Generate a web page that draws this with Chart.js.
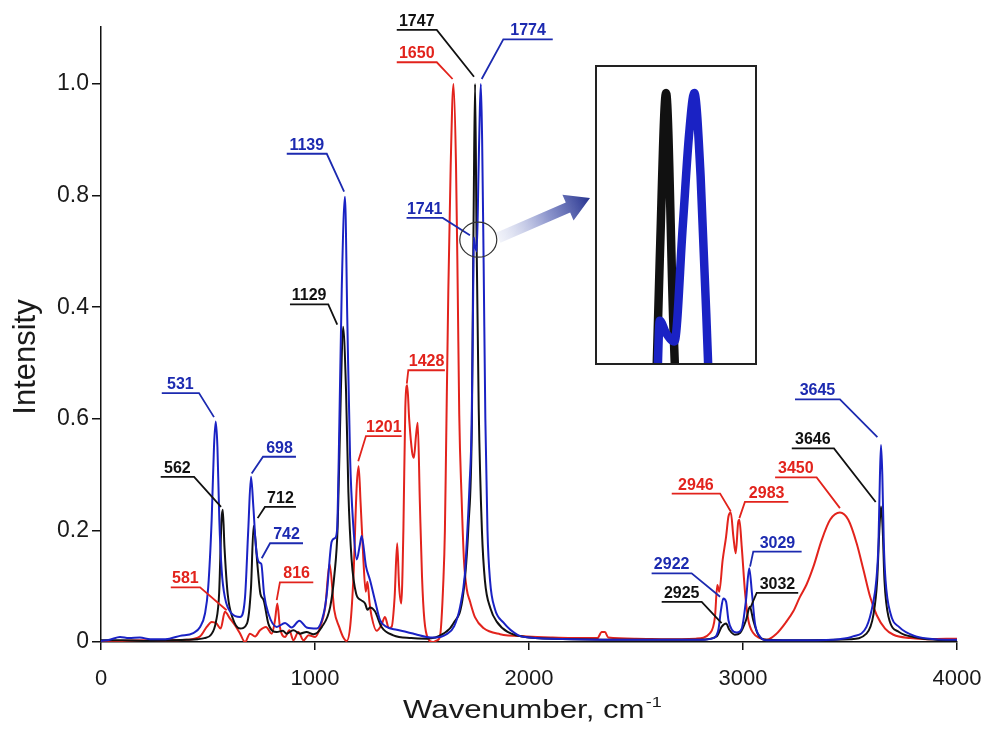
<!DOCTYPE html>
<html><head><meta charset="utf-8">
<script src="https://cdn.jsdelivr.net/npm/chart.js@4.4.1/dist/chart.umd.min.js"></script>
<style>
html,body{margin:0;padding:0;background:#fff;}
#wrap{position:relative;width:986px;height:729px;overflow:hidden;}
#main{position:absolute;left:0;top:0;}
#insetBox{position:absolute;left:595px;top:65px;width:162px;height:300px;border:2px solid #222;box-sizing:border-box;background:#fff;}
#inset{display:block;}
</style></head><body>
<div id="wrap"><canvas id="main" width="986" height="729"></canvas>
<div id="insetBox"><canvas id="inset" width="158" height="296"></canvas></div></div>
<script>
// ---- data ----
const blackX = [0,100,200,300,400,452,483,514,537,552,563,569,577,592,616,650,682,701,713,720,732,745,760,782,821,850,866,899,930,960,993,1032,1071,1090,1106,1121,1131,1145,1156,1171,1192,1215,1234,1245,1257,1280,1311,1366,1450,1522,1600,1646,1693,1717,1733,1738,1742,1748,1755,1765,1780,1794,1820,1850,1900,2000,2200,2500,2800,2877,2900,2921,2936,2962,2986,3014,3032,3048,3071,3110,3300,3500,3577,3610,3627,3637,3645,3653,3661,3680,3729,3808,3900,4000];
const blackY = [0.003,0.003,0.002,0.003,0.004,0.005,0.007,0.013,0.036,0.087,0.218,0.237,0.17,0.086,0.042,0.024,0.033,0.098,0.208,0.19,0.134,0.086,0.075,0.033,0.018,0.02,0.015,0.021,0.015,0.018,0.014,0.027,0.063,0.118,0.208,0.451,0.565,0.451,0.269,0.148,0.087,0.075,0.069,0.058,0.062,0.055,0.027,0.012,0.007,0.006,0.015,0.033,0.087,0.208,0.39,0.62,0.8,1.0,0.72,0.42,0.2,0.11,0.06,0.036,0.018,0.008,0.005,0.004,0.004,0.01,0.027,0.033,0.022,0.013,0.016,0.039,0.063,0.039,0.013,0.004,0.003,0.005,0.015,0.05,0.111,0.2,0.243,0.2,0.111,0.045,0.018,0.008,0.004,0.003];

const blueX = [0,40,89,130,182,230,276,320,369,431,463,486,501,517,528,536,544,553,564,579,611,650,673,688,701,712,724,738,749,762,782,821,860,891,927,961,1008,1040,1055,1078,1093,1103,1111,1125,1140,1151,1164,1179,1195,1210,1218,1238,1257,1280,1304,1335,1382,1428,1470,1522,1560,1615,1650,1678,1700,1709,1722,1732,1739,1742,1748,1756,1764,1770,1775,1781,1788,1796,1806,1818,1840,1880,1950,2000,2200,2500,2800,2862,2885,2897,2908,2921,2932,2948,2971,2994,3014,3029,3042,3056,3079,3110,3300,3450,3514,3577,3608,3623,3633,3640,3645,3651,3658,3666,3690,3729,3808,3900,4000];
const blueY = [0.002,0.004,0.009,0.007,0.008,0.005,0.005,0.006,0.011,0.016,0.027,0.051,0.098,0.218,0.35,0.395,0.35,0.218,0.128,0.08,0.051,0.045,0.08,0.2,0.296,0.242,0.17,0.143,0.14,0.086,0.051,0.027,0.034,0.026,0.038,0.026,0.024,0.05,0.086,0.18,0.186,0.2,0.33,0.633,0.798,0.577,0.33,0.208,0.148,0.175,0.19,0.136,0.111,0.075,0.039,0.027,0.022,0.018,0.014,0.009,0.008,0.014,0.028,0.063,0.12,0.178,0.28,0.39,0.62,0.725,0.71,0.70,0.84,0.95,1.0,0.9,0.68,0.4,0.2,0.11,0.06,0.035,0.012,0.008,0.005,0.004,0.004,0.007,0.022,0.057,0.078,0.072,0.039,0.022,0.017,0.024,0.075,0.132,0.087,0.033,0.01,0.003,0.003,0.005,0.01,0.027,0.07,0.111,0.177,0.3,0.353,0.3,0.177,0.111,0.05,0.027,0.01,0.005,0.004];

const redX = [0,100,200,300,400,463,494,517,540,559,579,603,626,650,673,696,720,743,771,798,813,824,836,860,880,899,922,946,970,1001,1025,1048,1068,1090,1113,1130,1148,1165,1180,1195,1204,1213,1226,1237,1245,1255,1265,1288,1310,1327,1345,1358,1372,1384,1393,1403,1413,1422,1431,1440,1454,1462,1472,1480,1490,1500,1511,1530,1550,1570,1584,1600,1607,1612,1623,1634,1647,1659,1667,1674,1685,1696,1709,1724,1748,1787,1865,1990,2100,2200,2320,2340,2355,2370,2500,2650,2780,2846,2869,2880,2889,2905,2921,2932,2943,2955,2966,2977,2983,2994,3010,3025,3048,3079,3110,3157,3200,3235,3265,3297,3329,3368,3407,3453,3492,3531,3563,3594,3625,3664,3703,3781,3859,3950,4000];
const redY = [0.002,0.002,0.003,0.003,0.004,0.01,0.027,0.036,0.033,0.024,0.054,0.042,0.03,0.015,0.0,0.015,0.01,0.021,0.027,0.015,0.039,0.069,0.027,0.009,0.021,0.003,0.018,0.003,0.012,0.009,0.027,0.063,0.14,0.057,0.027,0.01,0.002,0.03,0.12,0.28,0.315,0.25,0.148,0.09,0.108,0.07,0.045,0.02,0.03,0.045,0.025,0.027,0.08,0.177,0.1,0.069,0.2,0.42,0.46,0.4,0.34,0.33,0.37,0.393,0.25,0.118,0.04,0.005,0.0,0.003,0.01,0.111,0.2,0.333,0.63,0.853,1.0,0.853,0.63,0.408,0.259,0.147,0.095,0.073,0.044,0.025,0.014,0.01,0.008,0.007,0.007,0.018,0.018,0.008,0.006,0.005,0.006,0.016,0.045,0.102,0.09,0.147,0.189,0.225,0.232,0.189,0.159,0.213,0.219,0.171,0.087,0.039,0.016,0.007,0.004,0.015,0.035,0.055,0.08,0.103,0.135,0.183,0.219,0.232,0.219,0.177,0.129,0.081,0.048,0.024,0.013,0.007,0.005,0.006,0.006];

const xTickValues = [0,1000,2000,3000,4000];
const xTickLabels = ['0','1000','2000','3000','4000'];
const yTickValues = [0,0.2,0.4,0.6,0.8,1.0];
const yTickLabels = ['0','0.2','0.6','0.4','0.8','1.0'];

const peakLabels = ['531','562','698','712','742','581','816','1139','1129','1201','1428','1741','1747','1650','1774','2946','2983','2922','2925','3029','3032','3645','3646','3450'];
const peakSeries = ['blue','black','blue','black','blue','red','red','blue','black','red','red','blue','black','red','blue','red','red','blue','black','blue','black','blue','black','red'];

// ---- styling / layout (not data) ----
const COLORS = {black:'#111111', blue:'#1a22c4', red:'#e2231c'};
const TEXTC = {black:'#111111', blue:'#1c2ab0', red:'#e2231c'};
// underline start, end, height; leader target (data units); side of underline the leader leaves from
const labelLayout = [
 [284,458,0.446,528,0.403,'R'],
 [279,435,0.296,561,0.242,'R'],
 [757,911,0.332,704,0.302,'L'],
 [766,911,0.242,732,0.222,'L'],
 [790,944,0.177,751,0.150,'L'],
 [326,463,0.098,587,0.057,'R'],
 [836,992,0.107,821,0.075,'L'],
 [868,1055,0.875,1136,0.807,'R'],
 [883,1062,0.605,1104,0.569,'R'],
 [1238,1405,0.369,1202,0.324,'L'],
 [1436,1607,0.487,1429,0.463,'L'],
 [1428,1597,0.760,1724,0.729,'R'],
 [1382,1569,1.097,1743,1.013,'R'],
 [1382,1569,1.039,1643,1.009,'R'],
 [1880,2111,1.080,1779,1.009,'L'],
 [2667,2893,0.266,2943,0.234,'R'],
 [3009,3212,0.251,2983,0.222,'L'],
 [2573,2760,0.123,2893,0.081,'R'],
 [2620,2807,0.072,2900,0.034,'R'],
 [3048,3274,0.162,3033,0.135,'L'],
 [3064,3258,0.088,3033,0.060,'L'],
 [3243,3453,0.435,3628,0.367,'R'],
 [3228,3425,0.347,3620,0.251,'R'],
 [3150,3344,0.295,3453,0.240,'R']
];
const FONT = '"Liberation Sans", Arial, Helvetica, sans-serif';

function pts(xs, ys){ return xs.map((x,i)=>({x:x, y:ys[i]})); }
function ds(name, xs, ys, w){
  return {label:name, data:pts(xs,ys), borderColor:COLORS[name], borderWidth:w, pointRadius:0,
          fill:false, cubicInterpolationMode:'monotone'};
}

const annotPlugin = {
  id:'annot',
  afterDraw(chart){
    const ctx = chart.ctx, xs = chart.scales.x, ys = chart.scales.y;
    ctx.save();
    ctx.lineWidth = 1.8; ctx.lineJoin = 'miter';
    ctx.font = 'bold 16px ' + FONT; ctx.textAlign = 'center'; ctx.textBaseline = 'alphabetic';
    peakLabels.forEach((t,i)=>{
      const L = labelLayout[i], c = peakSeries[i];
      const x0 = xs.getPixelForValue(L[0]), x1 = xs.getPixelForValue(L[1]), y = ys.getPixelForValue(L[2]);
      const tx = xs.getPixelForValue(L[3]), ty = ys.getPixelForValue(L[4]);
      ctx.strokeStyle = TEXTC[c]; ctx.fillStyle = TEXTC[c];
      ctx.beginPath();
      if (L[5]==='R'){ ctx.moveTo(x0,y); ctx.lineTo(x1,y); ctx.lineTo(tx,ty); }
      else { ctx.moveTo(x1,y); ctx.lineTo(x0,y); ctx.lineTo(tx,ty); }
      ctx.stroke();
      ctx.fillText(t, (x0+x1)/2, y-4);
    });
    // circle
    const cx = xs.getPixelForValue(1763), cy = ys.getPixelForValue(0.721);
    ctx.strokeStyle = '#333'; ctx.lineWidth = 1.2;
    ctx.beginPath(); ctx.ellipse(cx, cy, 18.5, 17.5, 0, 0, Math.PI*2); ctx.stroke();
    // arrow
    const sx = cx+20, sy = cy-2, ex = 590, ey = 198;
    const ang = Math.atan2(ey-sy, ex-sx), len = Math.hypot(ex-sx, ey-sy);
    const g = ctx.createLinearGradient(sx, sy, ex, ey);
    g.addColorStop(0,'rgba(215,220,240,0.35)'); g.addColorStop(0.55,'rgba(120,130,195,0.85)'); g.addColorStop(1,'#26338f');
    ctx.translate(sx, sy); ctx.rotate(ang);
    ctx.fillStyle = g;
    const hw = 5.5, hl = 24, hh = 14;
    ctx.beginPath();
    ctx.moveTo(0,-hw); ctx.lineTo(len-hl,-hw); ctx.lineTo(len-hl,-hh); ctx.lineTo(len,0);
    ctx.lineTo(len-hl,hh); ctx.lineTo(len-hl,hw); ctx.lineTo(0,hw); ctx.closePath();
    ctx.setTransform(1,0,0,1,0,0);
    ctx.fill();
    ctx.restore();

    // axis titles
    ctx.save();
    ctx.fillStyle = '#1a1a1a';
    ctx.font = '31px ' + FONT;
    ctx.translate(35, 357); ctx.rotate(-Math.PI/2);
    ctx.textAlign = 'center'; ctx.textBaseline = 'alphabetic';
    ctx.fillText('Intensity', 0, 0);
    ctx.restore();

    ctx.save();
    ctx.fillStyle = '#1a1a1a';
    ctx.font = '26px ' + FONT;
    ctx.textAlign = 'left'; ctx.textBaseline = 'alphabetic';
    ctx.translate(403, 718); ctx.scale(1.2, 1);
    const main = 'Wavenumber, cm';
    ctx.fillText(main, 0, 0);
    const w = ctx.measureText(main).width;
    ctx.font = '15px ' + FONT;
    ctx.fillText('-1', w + 1, -11);
    ctx.restore();
  }
};

new Chart(document.getElementById('main'), {
  type:'line',
  data:{ datasets:[ ds('blue',blueX,blueY,2), ds('black',blackX,blackY,2), ds('red',redX,redY,2) ] },
  options:{
    responsive:false, animation:false, devicePixelRatio:1,
    layout:{ padding:{ top:27, right:29, left:0, bottom:0 } },
    plugins:{ legend:{display:false}, tooltip:{enabled:false} },
    scales:{
      x:{ type:'linear', min:0, max:4000,
          afterBuildTicks(s){ s.ticks = xTickValues.map(v=>({value:v})); },
          afterFit(s){ s.height = 87; s.paddingLeft = 0; s.paddingRight = 0; },
          ticks:{ font:{family:FONT, size:22}, color:'#1a1a1a', padding:16, maxRotation:0, autoSkip:false,
                  callback(v){ const k = xTickValues.indexOf(v); return k>=0 ? xTickLabels[k] : ''; } },
          grid:{ display:true, drawOnChartArea:false, drawTicks:true, tickLength:8, color:'#111', lineWidth:1.5 },
          border:{ display:true, color:'#111', width:1.5 } },
      y:{ type:'linear', min:0, max:1.1022,
          afterBuildTicks(s){ s.ticks = yTickValues.map(v=>({value:v})); },
          afterFit(s){ s.width = 101; s.paddingTop = 0; s.paddingBottom = 0; },
          ticks:{ font:{family:FONT, size:23}, color:'#1a1a1a', padding:3, autoSkip:false,
                  callback(v){ const k = yTickValues.findIndex(t=>Math.abs(t-v)<1e-6); return k>=0 ? yTickLabels[k] : ''; } },
          grid:{ display:true, drawOnChartArea:false, drawTicks:true, tickLength:9, color:'#111', lineWidth:1.5 },
          border:{ display:true, color:'#111', width:1.5 } }
    }
  },
  plugins:[annotPlugin]
});

// inset: magnified view of the same black and blue data
new Chart(document.getElementById('inset'), {
  type:'line',
  data:{ datasets:[ ds('blue',blueX,blueY,8.5), ds('black',blackX,blackY,8.5) ] },
  options:{
    responsive:false, animation:false, devicePixelRatio:1,
    layout:{ padding:0 },
    plugins:{ legend:{display:false}, tooltip:{enabled:false} },
    scales:{
      x:{ type:'linear', min:1682, max:1833, display:false },
      y:{ type:'linear', min:0.674, max:1.0315, display:false }
    }
  }
});
</script>
</body></html>
